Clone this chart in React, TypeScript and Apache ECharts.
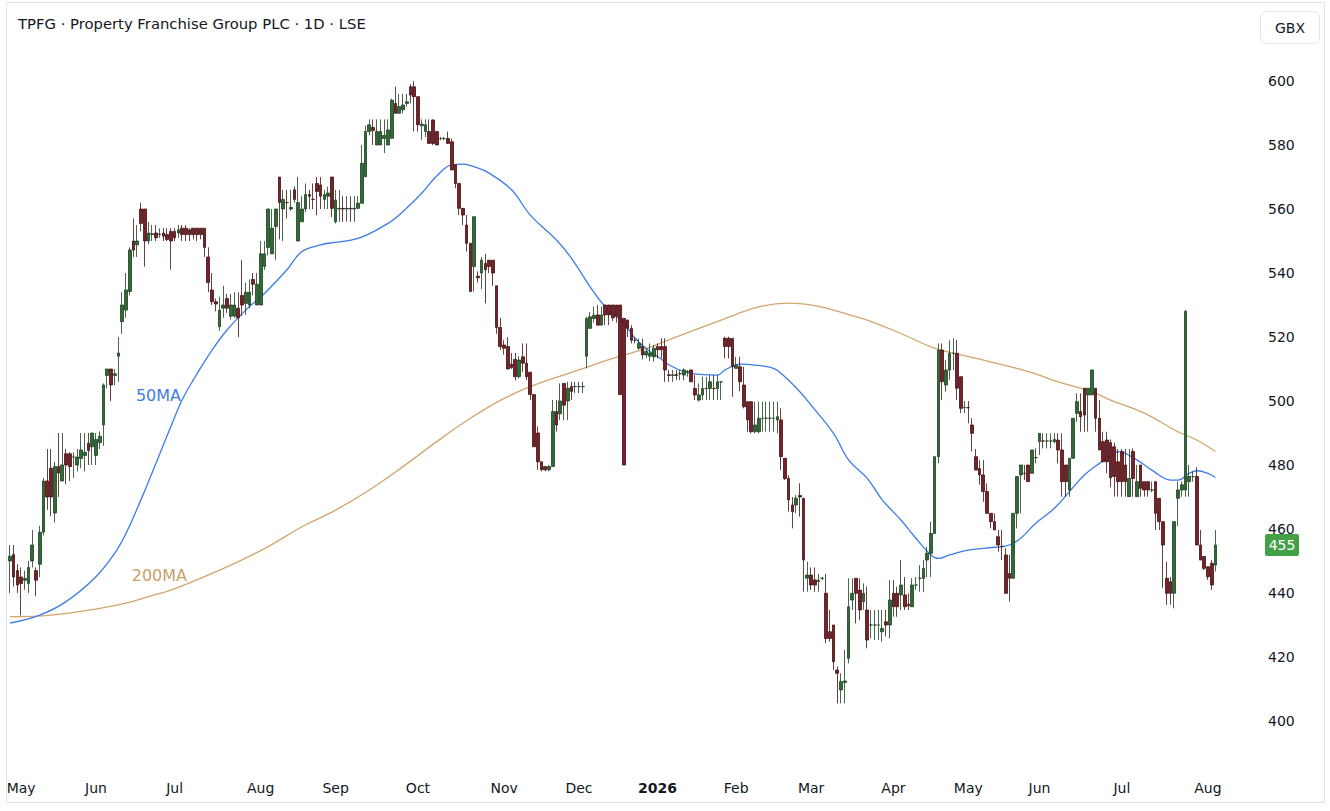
import React, { useEffect, useRef } from "react";
import * as echarts from "echarts";

// ---- categories: LSE trading days ----
const START_DATE = "2025-04-28";
const HOLIDAYS = [
  "2025-05-05", "2025-05-26", "2025-08-25", "2025-12-25", "2025-12-26",
  "2026-01-01", "2026-04-03", "2026-04-06", "2026-05-04", "2026-05-25",
];
const TRADING_DAYS = 323;
const EMPTY_SLOTS = 9;
const MONTHS = ["Jan", "Feb", "Mar", "Apr", "May", "Jun", "Jul", "Aug", "Sep", "Oct", "Nov", "Dec"];

// ---- OHLC values (GBX) ----
const OPEN = [
  450, 452, 447, 445, 444, 443, 450, 447, 449, 459,
  475, 479, 465, 479.5, 475, 483.5, 483.5, 482.5, 480, 482,
  483, 486.8, 485.7, 483, 487, 492.5, 508, 510, 508, 514,
  524.8, 528.4, 534.2, 550, 548.8, 560, 560, 550, 552, 552.5,
  552, 552.5, 552, 553, 553, 552.5, 554, 554, 553.5, 554,
  554, 554, 554, 545, 534.7, 531, 523.2, 529, 532, 526.5,
  526.5, 529, 533, 530.5, 530, 538, 530, 530, 542, 548,
  546, 554.5, 570, 560, 562, 560, 566, 550, 556, 560,
  564.5, 563, 568, 567.5, 563, 564, 570, 556, 560, 560.2,
  560, 560.2, 560, 560.2, 561.8, 570.1, 584.2, 585.5, 580, 580,
  582, 580, 582.1, 593, 589.9, 591, 593, 598.2, 598.2, 595.1,
  586, 584.2, 584.2, 587.8, 584.2, 582, 582, 582, 581, 573.8,
  568, 560.2, 555, 549.3, 542, 539, 540, 543, 544, 544,
  536, 523, 517.5, 517, 511.5, 513, 507.6, 513.8, 511.8, 509,
  502, 490, 481, 479.5, 478.5, 479.5, 496.7, 496, 505.5, 500,
  504.5, 504.5, 504.5, 504.5, 514, 522.7, 525.8, 526.9, 523.7, 530,
  530, 530, 530, 530, 525.8, 525.3, 522.7, 519, 516.5, 517,
  514.4, 514, 513.8, 517, 517, 517, 508.2, 508, 508.2, 508.5,
  508.1, 509.1, 509.7, 503.9, 500.3, 501.9, 503.9, 503.9, 503.9, 503.9,
  506, 519.6, 519.6, 519.6, 510.2, 510.7, 505, 499.8, 499.8, 490.4,
  490.4, 494.6, 494.6, 494.6, 494.6, 494.1, 494.1, 482.1, 475.8, 467.5,
  467.5, 470.5, 469.6, 444.6, 445.6, 444.1, 443.6, 444.6, 439.9, 427.9,
  430, 415.9, 409.7, 412, 419.6, 437.8, 444.6, 440.9, 437.3, 434.7,
  430, 430, 430, 427.9, 431, 430, 439.9, 439.9, 439.4, 439.4,
  436.5, 435.7, 442.5, 444.6, 444.6, 450.3, 452.4, 458.6, 482.6, 515.9,
  505, 509.7, 514.9, 514.9, 507.6, 498, 497.9, 492.5, 482.6, 478.9,
  476.9, 471.7, 464.9, 462.3, 457.6, 454.5, 451.9, 446.1, 444.6, 464.9,
  476.9, 477.4, 480, 477.4, 482.3, 487.3, 487.5, 487.5, 487.5, 487.3,
  487.8, 484.7, 480, 472.2, 482.1, 496.1, 496.7, 504, 501.9, 501.9,
  504, 494.6, 487.3, 487.8, 487, 485.7, 481, 484.2, 480, 470.1,
  484.2, 470.1, 480, 474.8, 474.8, 472.2, 474.8, 469.6, 462.3, 444.6,
  443.5, 439.9, 469.6, 472.2, 472.2, 474.8, 476.4, 476.4, 455, 451.4,
  448.2, 449.3, 448.7,
];
const HIGH = [
  455, 455, 449, 448, 447, 450, 459.7, 448, 461, 476,
  485, 485, 481, 490, 490, 485, 484, 484, 485, 490,
  490, 490, 490, 490, 490.5, 505.5, 510, 510, 510, 520,
  534, 540, 548, 557, 555, 562, 560, 556, 555, 555,
  554, 554, 554, 554, 554, 555, 555, 555, 554, 554,
  554, 554, 554, 548, 540, 532, 532.6, 536, 533.5, 533.5,
  534, 534, 544, 537, 538, 540, 540, 550, 550, 560,
  560, 560, 570, 566, 566, 566, 567, 570, 564, 568,
  566, 568, 570, 570, 566, 567, 570, 566, 566, 564,
  564, 564, 564, 564, 580, 586, 588, 588, 588, 588,
  588, 588, 594.5, 598.2, 596, 596, 596, 599, 600, 595.1,
  588, 588, 588, 588, 584.2, 582.5, 582.5, 584.2, 582, 573.8,
  568, 560.2, 558.1, 549.3, 557.6, 540.5, 545, 546, 544, 544,
  536, 526, 519, 520, 515, 515, 514, 518, 518, 509,
  502, 492, 481, 479.5, 480, 500.3, 500.3, 505.5, 505.5, 506,
  506, 506, 506, 506, 526.3, 527.8, 529.5, 530, 529.5, 530,
  530, 530, 530, 530, 525.8, 525.3, 523.7, 520, 519.5, 519.5,
  516.5, 518, 517.5, 518, 519.6, 519.6, 509.7, 509.7, 509.7, 509.7,
  510.2, 509.7, 509.7, 508.1, 505.5, 507.6, 507.6, 508.1, 508.1, 508.1,
  506, 520.1, 520.1, 519.6, 513.8, 513.8, 510.7, 499.8, 499.8, 499.8,
  499.8, 499.8, 499.8, 499.8, 499.8, 499.8, 497.7, 482.1, 476.8, 470,
  470.6, 474.3, 469.6, 449.8, 448, 448, 446, 445, 446, 434.7,
  430, 417, 414.9, 422.2, 444.6, 444.6, 444.6, 444.6, 443, 442,
  434.7, 434.7, 434.7, 434.7, 434.7, 444, 444, 442, 450.3, 445,
  439.9, 444.6, 445, 448.7, 450.3, 454.5, 462.3, 482.6, 518, 518,
  512.8, 519, 519.6, 519, 507.6, 500, 500, 494.6, 485, 481.5,
  481.5, 474.3, 464.9, 464.9, 459.7, 459.7, 454, 451.9, 464.9, 476.4,
  480, 480, 480, 484.7, 485.2, 489.9, 489.9, 489.9, 489.9, 489.9,
  489.9, 489.9, 480, 482.1, 494.6, 502.4, 502.4, 504, 504, 509.7,
  504, 500.3, 490.4, 490.4, 488, 487, 485, 485, 485, 485,
  485.2, 480, 480, 474.8, 474.8, 474.8, 474.8, 469.6, 462.3, 449.8,
  445, 462.3, 474.8, 474.8, 528.5, 480, 478, 479.3, 459.7, 451.4,
  448.2, 450.3, 459.7,
];
const LOW = [
  440, 442, 440, 433, 441, 440, 448, 439, 445, 458,
  466, 464, 462, 470, 475, 474, 475, 476, 478, 479,
  478, 480, 480, 480, 485, 486, 504, 500, 505, 506,
  521, 526, 533, 545, 545, 553, 542, 549, 550, 550,
  551, 550, 550, 541, 550, 551, 550, 550, 550, 550.5,
  550, 550.5, 545, 534, 530, 528, 522, 526, 527.5, 525.5,
  526, 520, 526.5, 527, 529, 533, 530, 530, 541, 545.5,
  546, 544, 550.5, 550, 557, 559.5, 562, 550, 556, 559,
  560, 560, 558, 560, 560, 560, 557.5, 555.5, 556, 556,
  556, 556, 556, 560, 561.8, 570, 583, 580, 580, 580,
  577.5, 580, 582, 589.9, 589.9, 589.9, 592, 593, 584.2, 584.2,
  581.5, 582.5, 580.5, 580, 580, 581.5, 581.5, 580.5, 572.2, 566.5,
  558.1, 555, 546.7, 534.2, 534.2, 537, 535, 530.5, 540, 536,
  521, 516, 514.5, 510, 510, 506.5, 507, 509, 506.5, 500.3,
  485.7, 478.5, 478, 478, 478, 479.5, 490.4, 494, 494, 494,
  500.3, 502.5, 502.5, 502.5, 510.2, 522.7, 524.5, 523.7, 523.7, 523.7,
  523.7, 525, 524.5, 502, 480, 520, 518, 518, 516, 513,
  513.5, 512.5, 512.3, 513.3, 513.3, 506, 506, 506, 506.5, 506.5,
  506.5, 507.6, 506, 500.3, 499.8, 500.3, 500.3, 500.3, 500.3, 500.3,
  500.3, 513.3, 513.3, 501.3, 510.2, 503, 497.7, 490.4, 489.9, 489.9,
  489.9, 490.4, 490.4, 490.4, 490.4, 489.9, 478.4, 475.3, 465.4, 460.2,
  464.9, 463.9, 440.4, 440.4, 441, 440.4, 440.4, 444, 424.3, 424.8,
  416, 405.5, 405.5, 405.5, 418, 434.7, 430.5, 431.5, 434.7, 422.7,
  425.8, 425.3, 425.3, 424.8, 426.4, 425.8, 432.6, 432.6, 434.7, 434.7,
  434.7, 435.7, 441, 440.4, 440.4, 445, 445, 458.6, 480.5, 500.3,
  502.9, 506.6, 509.7, 500.3, 496.2, 496.2, 493, 484.2, 478.4, 473.8,
  468.5, 464.9, 460.2, 459.7, 452.9, 450.3, 439.9, 437.3, 444.6, 460.2,
  464.9, 475.3, 474.8, 477.4, 480.5, 483.1, 485.2, 485.2, 485.2, 486.8,
  480.5, 470.1, 470.1, 470.1, 482.1, 493.5, 490.4, 490.4, 490.4, 501.9,
  490.4, 484.7, 481, 477.4, 473, 470.1, 470.1, 470.1, 470.1, 470.1,
  470.1, 470.1, 470.1, 470.1, 470.1, 471.5, 459.7, 459.7, 441.5, 436.3,
  436.3, 435.2, 460.9, 470.1, 470.1, 470.1, 474.8, 455, 450.3, 447.2,
  444.1, 441, 446.7,
];
const CLOSE = [
  451.5, 445, 442.5, 443, 444.5, 448, 455, 444, 459, 475,
  470, 470, 479.5, 477.5, 480, 480, 479.5, 482.5, 482.5, 484.7,
  484, 484.5, 490, 488, 489, 505, 510, 505, 508.5, 515,
  530, 534.7, 547.2, 547.2, 550, 555.5, 550, 552.5, 552.3, 551,
  552.2, 551.5, 550.5, 550, 551, 553.5, 552, 552, 552, 552,
  552, 552, 548, 537, 531, 530.3, 528.4, 530, 529, 530,
  530, 526, 530, 534, 534, 536.5, 536.5, 546, 546, 560,
  554, 560, 562, 563, 562, 560.5, 563, 562, 560, 564.5,
  564, 563, 565.5, 564, 564.5, 565, 560.2, 562.8, 560.2, 560,
  560.2, 560, 560.2, 561.8, 574.3, 584.2, 586.3, 584.5, 584.2, 584.2,
  583, 584.7, 594, 589.9, 592, 592.5, 593.5, 595.6, 595.1, 586.3,
  586.5, 586.3, 580.5, 580.5, 580, 582, 582, 580.5, 572.2, 568,
  560.2, 558.1, 549.3, 534.2, 557.6, 538.5, 544, 541, 542, 540,
  523, 517, 516.5, 510, 510.5, 507.6, 512.8, 511.8, 507.6, 502,
  485.7, 481, 478.5, 478.5, 479.5, 496.7, 492.5, 500, 498.7, 504,
  503, 504.5, 504.5, 504.5, 525.8, 526.3, 526.8, 523.7, 526.9, 526.9,
  526.9, 526, 526.5, 502, 480, 522.7, 519, 519, 518, 514.4,
  515.5, 515, 516.5, 516, 516, 509.7, 508, 508.2, 508, 508.6,
  509.7, 509.2, 506, 501.9, 501.9, 503.9, 503.9, 506, 503.9, 506,
  506, 517, 517, 510.7, 511.2, 506, 498.2, 494.1, 490.4, 492.5,
  494.6, 494.6, 494.6, 494.6, 494.6, 495.1, 482.6, 475.8, 469.1, 465.4,
  469.6, 470, 450.3, 445.6, 442.5, 442.5, 444, 444.6, 425.8, 425.8,
  418.5, 414.9, 412.3, 412.5, 435.7, 439.9, 439.9, 434.7, 439.9, 425.3,
  430, 430, 430, 428.9, 430, 437.8, 435.7, 435.7, 442.5, 435.7,
  436, 442.5, 442.5, 444.6, 447.7, 452.4, 458.6, 482.6, 515.9, 506,
  509.7, 514.9, 514.9, 504, 497.7, 498, 497.9, 489.9, 478.4, 476.9,
  471.7, 464.9, 462.3, 459.7, 455, 454.5, 439.9, 444.6, 464.9, 476.4,
  480, 477.4, 474.8, 484.7, 482.3, 489.9, 487.5, 487.5, 487.5, 488,
  484.7, 474.8, 474.8, 482.1, 494.6, 499.8, 495.1, 495.6, 504, 509.7,
  494.6, 484.7, 481, 481, 476, 476.4, 474.8, 474.8, 474.8, 475.8,
  475.8, 474.8, 472.7, 472.2, 472.2, 472.2, 464.9, 462.3, 455, 439.9,
  439.9, 462.3, 472.2, 473.8, 528, 476.4, 476.4, 455, 450.3, 447.7,
  445.1, 442.5, 455,
];

// ---- moving averages (bar index, value) ----
const MA50_IDX = [
  0, 8, 15, 23, 28, 31, 35, 39, 43, 46, 49, 54, 58, 63, 68, 74, 78, 83, 85, 93,
  101, 105, 110, 114, 118, 121, 124, 128, 134, 139, 146, 150, 155, 159, 164, 167, 171, 173, 177, 182,
  189, 191, 195, 199, 204, 207, 211, 214, 220, 224, 229, 233, 238, 242, 246, 248, 251, 256, 263, 267,
  270, 274, 279, 283, 287, 291, 295, 296, 301, 305, 310, 312, 315, 317, 320, 322,
];
const MA50_VAL = [
  430.6, 433.1, 437.3, 445.1, 452.4, 458.6, 469.1, 480.5, 492, 500.3, 506.6, 515.9, 522.2, 528.4, 533.6, 541, 546.7, 548.8, 549.3, 550.8,
  555.5, 559.2, 564.9, 570.3, 573.8, 574, 573.2, 571.2, 566, 558.1, 550.3, 544.6, 535.7, 529.5, 524.3, 519.6, 515.4, 513.9, 510.7, 508.6,
  508.1, 509.7, 511.5, 511.2, 510.2, 507.6, 502.9, 498.7, 489.9, 481.6, 475.8, 469.1, 462.8, 457.1, 451.9, 450.8, 451.9, 453.4, 454.3, 455,
  457.1, 461.8, 466.5, 471.7, 476.9, 480.5, 483.6, 484.2, 481.6, 478.4, 475.3, 475.3, 477.4, 478.2, 477.4, 476.1,
];
const MA200_IDX = [
  0, 11, 24, 31, 37, 43, 52, 61, 69, 78, 87, 96, 105, 114, 123, 131, 139, 152, 161, 171,
  177, 190, 200, 208, 216, 224, 229, 238, 247, 256, 260, 272, 280, 289, 294, 303, 312, 317, 322,
];
const MA200_VAL = [
  432.6, 433.1, 435.2, 436.8, 438.9, 440.9, 445.1, 449.8, 454.5, 460.7, 465.9, 472.2, 479.5, 487.3, 494.6, 500.2, 504.5, 509.7, 513.3, 516.8,
  519.6, 525.3, 529.4, 530.6, 529.6, 527, 525.3, 521.1, 516.5, 513.9, 512.8, 509.2, 506, 502.9, 500.3, 496.2, 490.4, 487.8, 484.2,
];

const TITLE = "TPFG · Property Franchise Group PLC · 1D · LSE";
const CURRENCY = "GBX";
const FONT = "'DejaVu Sans', sans-serif";
const TEXT = "#131722";

function buildDates(count: number): string[] {
  const out: string[] = [];
  const [y, m, d] = START_DATE.split("-").map(Number);
  const cur = new Date(Date.UTC(y, m - 1, d));
  while (out.length < count) {
    const iso = cur.toISOString().slice(0, 10);
    const dow = cur.getUTCDay();
    if (dow !== 0 && dow !== 6 && HOLIDAYS.indexOf(iso) < 0) out.push(iso);
    cur.setUTCDate(cur.getUTCDate() + 1);
  }
  return out;
}

export default function App() {
  const ref = useRef<HTMLDivElement>(null);

  useEffect(() => {
    if (!ref.current) return;
    const chart = echarts.init(ref.current, null, { renderer: "svg" });
    const dates = buildDates(TRADING_DAYS + EMPTY_SLOTS);
    const firstOfMonth = new Set<number>();
    for (let i = 1; i < dates.length; i++) {
      if (dates[i].slice(5, 7) !== dates[i - 1].slice(5, 7)) firstOfMonth.add(i);
    }
    const candles = OPEN.map((o, i) => [o, CLOSE[i], LOW[i], HIGH[i]]);
    const ma50 = MA50_IDX.map((x, k) => [x, MA50_VAL[k]]);
    const ma200 = MA200_IDX.map((x, k) => [x, MA200_VAL[k]]);

    const baseGraphic: any[] = [
      {
        id: "frame", type: "rect", silent: true,
        shape: { x: 6.5, y: 2.5, width: 1318, height: 800 },
        style: { fill: "none", stroke: "#e0e3eb", lineWidth: 1 },
      },
      {
        id: "title", type: "text", left: 18, top: 16,
        style: { text: TITLE, font: `14.8px ${FONT}`, fill: TEXT },
      },
      {
        id: "gbxbox", type: "rect",
        shape: { x: 1260.5, y: 11.5, width: 59, height: 32, r: 6 },
        style: { fill: "#ffffff", stroke: "#e0e3eb", lineWidth: 1 },
      },
      {
        id: "gbxtext", type: "text", x: 1290, y: 27.5,
        style: { text: CURRENCY, font: `14px ${FONT}`, fill: TEXT, align: "center", verticalAlign: "middle" },
      },
      {
        id: "lbl50", type: "text", x: 181, y: 395,
        style: { text: "50MA", font: `16px ${FONT}`, fill: "#3d7ce6", align: "right", verticalAlign: "middle" },
      },
      {
        id: "lbl200", type: "text", x: 187, y: 575,
        style: { text: "200MA", font: `16px ${FONT}`, fill: "#c9a06b", align: "right", verticalAlign: "middle" },
      },
    ];

    chart.setOption({
      animation: false,
      backgroundColor: "#ffffff",
      grid: { left: 8, top: 17, width: 1243, height: 768, containLabel: false },
      xAxis: {
        type: "category",
        data: dates,
        boundaryGap: true,
        axisLine: { show: false },
        axisTick: { show: false },
        splitLine: { show: false },
        axisLabel: {
          interval: (index: number) => firstOfMonth.has(index),
          margin: -4,
          fontFamily: FONT,
          fontSize: 14,
          color: TEXT,
          formatter: (value: string) => {
            const mo = Number(value.slice(5, 7));
            if (mo === 1) return `{y|${value.slice(0, 4)}}`;
            return MONTHS[mo - 1];
          },
          rich: { y: { fontFamily: FONT, fontSize: 14, fontWeight: "bold", color: TEXT } },
        },
      },
      yAxis: {
        type: "value",
        position: "right",
        min: 380,
        max: 620,
        interval: 20,
        scale: true,
        axisLine: { show: false },
        axisTick: { show: false },
        splitLine: { show: false },
        axisLabel: {
          showMinLabel: false,
          showMaxLabel: false,
          margin: 17,
          fontFamily: FONT,
          fontSize: 14,
          color: TEXT,
        },
      },
      series: [
        {
          type: "line",
          data: ma200,
          smooth: 0.4,
          showSymbol: false,
          silent: true,
          lineStyle: { color: "#d2a56e", width: 1.3 },
          z: 1,
        },
        {
          type: "line",
          data: ma50,
          smooth: 0.4,
          showSymbol: false,
          silent: true,
          lineStyle: { color: "#3d7ce6", width: 1.3 },
          z: 2,
        },
        {
          type: "candlestick",
          data: candles,
          barWidth: 3.2,
          itemStyle: {
            color: "#2f6b34",
            color0: "#7a2128",
            borderColor: "#1d3f21",
            borderColor0: "#3f1215",
            borderWidth: 0.8,
          },
          z: 3,
        },
      ],
      graphic: baseGraphic,
    });

    const lastClose = CLOSE[CLOSE.length - 1];
    const py = chart.convertToPixel({ yAxisIndex: 0 }, lastClose) as number;
    chart.setOption({
      graphic: [
        ...baseGraphic,
        {
          id: "tagbox", type: "rect",
          shape: { x: 1265, y: py - 11, width: 34, height: 22, r: 2 },
          style: { fill: "#43a047" },
        },
        {
          id: "tagtext", type: "text", x: 1282, y: py,
          style: { text: String(lastClose), font: `14px ${FONT}`, fill: "#ffffff", align: "center", verticalAlign: "middle" },
        },
      ],
    });

    return () => chart.dispose();
  }, []);

  return (
    <div
      ref={ref}
      style={{ position: "fixed", left: 0, top: 0, width: 1330, height: 811, background: "#ffffff" }}
    />
  );
}
